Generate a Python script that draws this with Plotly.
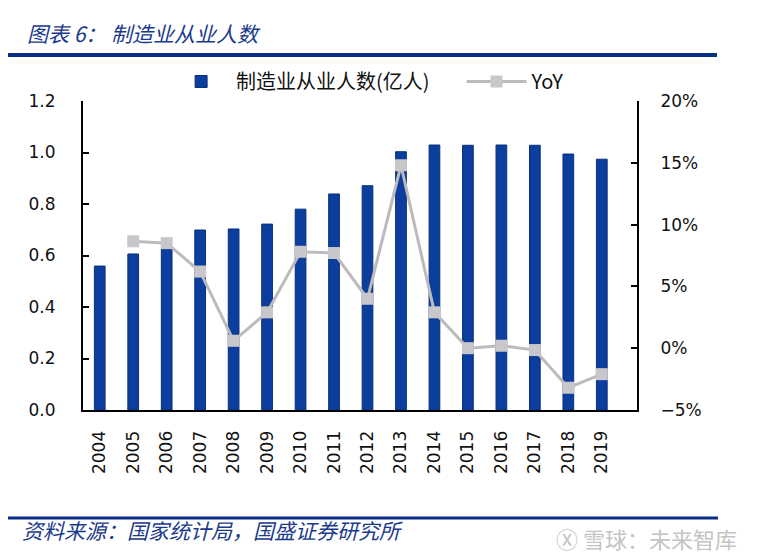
import plotly.graph_objects as go

years = [str(y) for y in range(2004, 2020)]
workers = [0.559, 0.606, 0.625, 0.699, 0.703, 0.722, 0.780, 0.839, 0.871, 1.003,
           1.029, 1.028, 1.029, 1.028, 0.994, 0.974]
yoy_years = years[1:]
yoy = [8.65, 8.5, 6.2, 0.6, 2.9, 7.8, 7.7, 4.0, 14.8, 2.9, 0.0, 0.2, -0.15, -3.2, -2.1]

BLUE = "#0c3e9e"
TXT_BLUE = "#1a3a8c"
font_tick = dict(family="DejaVu Sans", size=17, color="#111111")

# page body has an 8px margin, so the figure is offset by (8, 8) on screen
PW, PH = 554, 309
def px(sx):
    return (sx - 83) / PW
def py(sy):
    return (410 - sy) / PH

fig = go.Figure()
fig.add_trace(go.Bar(
    x=years, y=workers, name="制造业从业人数(亿人)" + "\u00a0" * 6,
    marker=dict(color=BLUE, line=dict(color="#08307e", width=1)),
    yaxis="y",
))
fig.add_trace(go.Scatter(
    x=yoy_years, y=yoy, name="YoY", mode="lines+markers",
    line=dict(color="#bdb9bc", width=3),
    marker=dict(symbol="square", size=12, color="#c8c8cc", line=dict(width=0)),
    yaxis="y2",
))

fig.update_layout(
    width=758, height=560,
    margin=dict(l=75, r=129, t=93, b=158, autoexpand=False),
    paper_bgcolor="white", plot_bgcolor="white",
    bargap=0.68,
    showlegend=True,
    legend=dict(orientation="h", x=0.15, y=1.0, xanchor="left", yanchor="bottom",
                font=dict(family="Noto Sans CJK SC", size=20, color="#111111"),
                itemwidth=60, bgcolor="rgba(0,0,0,0)"),
    xaxis=dict(type="category", tickangle=-90, tickfont=font_tick,
               showline=True, linecolor="black", linewidth=2, ticks="",
               ticklabelstandoff=12, automargin=False,
               showgrid=False, zeroline=False),
    yaxis=dict(range=[0, 1.2], dtick=0.2, tickformat=".1f", tickfont=font_tick,
               showline=True, linecolor="black", linewidth=2,
               ticks="inside", ticklen=6, tickcolor="black", tickwidth=1.5,
               ticklabelstandoff=22, automargin=False,
               showgrid=False, zeroline=False),
    yaxis2=dict(range=[-5, 20], dtick=5, ticksuffix="%", tickfont=font_tick,
                overlaying="y", side="right",
                showline=True, linecolor="black", linewidth=2,
                ticks="inside", ticklen=6, tickcolor="black", tickwidth=1.5,
                ticklabelstandoff=18, automargin=False,
                showgrid=False, zeroline=False),
)

# header title and rules
fig.add_annotation(xref="paper", yref="paper", x=px(25), y=py(33),
                   xanchor="left", yanchor="middle", showarrow=False,
                   text="图表 6： 制造业从业人数",
                   font=dict(family="Noto Sans CJK SC", size=21, color=TXT_BLUE, style="italic"))
fig.add_shape(type="line", xref="paper", yref="paper",
              x0=px(8), x1=px(717), y0=py(55), y1=py(55),
              line=dict(color="#0b2f86", width=4))
fig.add_shape(type="line", xref="paper", yref="paper",
              x0=px(8), x1=px(718), y0=py(518), y1=py(518),
              line=dict(color="#0b2f86", width=3))
fig.add_annotation(xref="paper", yref="paper", x=px(20), y=py(530),
                   xanchor="left", yanchor="middle", showarrow=False,
                   text="资料来源：国家统计局，国盛证券研究所",
                   font=dict(family="Noto Sans CJK SC", size=21, color=TXT_BLUE, style="italic"))
fig.add_annotation(xref="paper", yref="paper", x=px(739), y=py(538),
                   xanchor="right", yanchor="middle", showarrow=False,
                   text="Ⓧ 雪球：未来智库",
                   font=dict(family="Noto Sans CJK SC", size=22, color="#c4c4c4"))

fig.write_html("out.html")
